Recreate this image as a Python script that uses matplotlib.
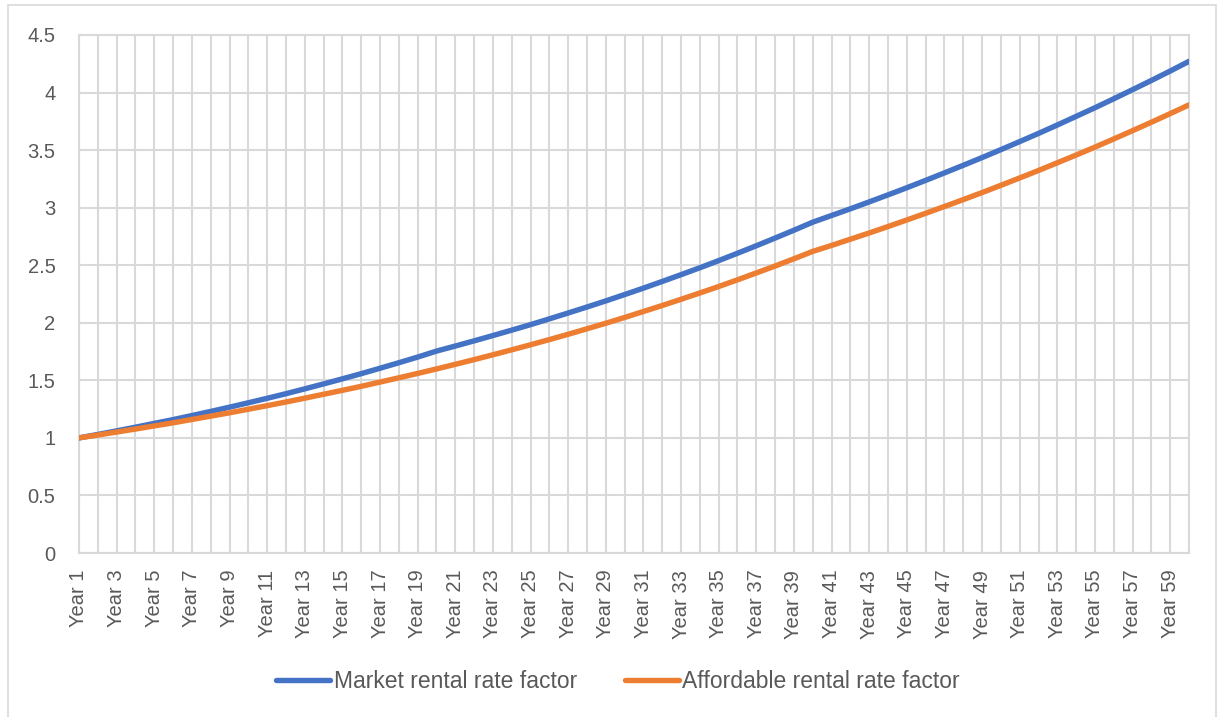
import matplotlib
matplotlib.use("Agg")
import matplotlib.pyplot as plt
from matplotlib.patches import Rectangle
import numpy as np

plt.rcParams['font.family'] = ['Liberation Sans', 'DejaVu Sans']

years = [f"Year {i}" for i in range(1, 61)]

market = [1.000, 1.030, 1.061, 1.093, 1.126, 1.159, 1.194, 1.230, 1.267, 1.305,
          1.344, 1.384, 1.426, 1.469, 1.513, 1.558, 1.605, 1.653, 1.702, 1.754,
          1.798, 1.843, 1.889, 1.936, 1.984, 2.034, 2.085, 2.137, 2.190, 2.245,
          2.301, 2.359, 2.418, 2.478, 2.540, 2.604, 2.669, 2.736, 2.804, 2.874,
          2.932, 2.990, 3.050, 3.111, 3.173, 3.237, 3.302, 3.368, 3.435, 3.504,
          3.574, 3.645, 3.718, 3.793, 3.868, 3.946, 4.025, 4.105, 4.187, 4.271]

affordable = [1.000, 1.025, 1.051, 1.077, 1.104, 1.131, 1.160, 1.189, 1.218, 1.249,
              1.280, 1.312, 1.345, 1.379, 1.413, 1.448, 1.485, 1.522, 1.560, 1.599,
              1.639, 1.680, 1.722, 1.765, 1.809, 1.854, 1.900, 1.948, 1.996, 2.046,
              2.098, 2.150, 2.204, 2.259, 2.315, 2.373, 2.433, 2.493, 2.556, 2.620,
              2.672, 2.726, 2.780, 2.836, 2.893, 2.951, 3.010, 3.070, 3.131, 3.194,
              3.258, 3.323, 3.390, 3.457, 3.526, 3.597, 3.669, 3.742, 3.817, 3.893]

y_ticks = [0, 0.5, 1, 1.5, 2, 2.5, 3, 3.5, 4, 4.5]
y_labels = ["0", "0.5", "1", "1.5", "2", "2.5", "3", "3.5", "4", "4.5"]

grid_col = "#D9D9D9"
text_col = "#595959"

fig = plt.figure(figsize=(12.19, 7.17), dpi=100)
ax = fig.add_axes([0.0648, 0.2287, 0.9106, 0.7225])

x = np.arange(len(years))
ax.plot(x, market, color="#4472C4", lw=3.9, solid_capstyle="round",
        label="Market rental rate factor", zorder=3)
ax.plot(x, affordable, color="#ED7D31", lw=3.9, solid_capstyle="round",
        label="Affordable rental rate factor", zorder=3)

ax.set_xlim(0, len(years) - 1)
ax.set_ylim(0, 4.5)

ax.set_xticks(x[::2])
ax.set_xticklabels(years[::2], rotation=90, fontsize=14.5, color=text_col)
ax.set_xticks(x, minor=True)
ax.set_yticks(y_ticks)
ax.set_yticklabels(y_labels, fontsize=14.5, color=text_col)
ax.tick_params(axis="both", which="both", length=0)
ax.tick_params(axis="x", pad=12)
ax.tick_params(axis="y", pad=17)

ax.grid(True, axis="x", which="both", color=grid_col, lw=1.5)
ax.grid(True, axis="y", which="major", color=grid_col, lw=1.5)
ax.set_axisbelow(True)
for s in ax.spines.values():
    s.set_color(grid_col)
    s.set_linewidth(1.5)

fig.legend(loc="center", bbox_to_anchor=(0.507, 0.05), ncol=2, frameon=False,
           fontsize=16.5, labelcolor=text_col, handlelength=2.36,
           handletextpad=0.15, columnspacing=2.1)

# outer chart frame
fig.patches.append(Rectangle((0.0066, -0.02), 0.9909, 1.013, transform=fig.transFigure,
                             fill=False, edgecolor=grid_col, lw=1.2))

fig.savefig("out.png", dpi=100)
